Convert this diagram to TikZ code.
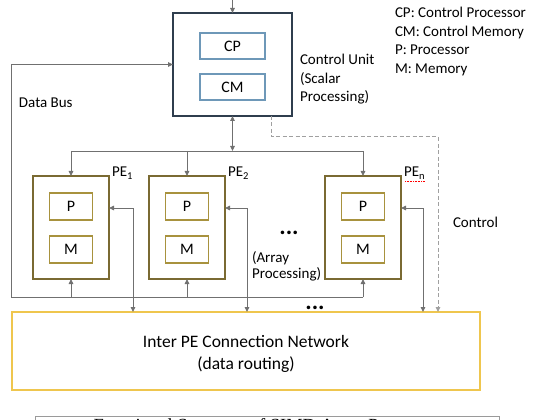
\documentclass[tikz,border=0pt]{standalone}
\usepackage{fontspec}
\setmainfont{Carlito}
\newfontfamily\capfont{Liberation Serif}
\usetikzlibrary{arrows.meta}
\definecolor{cuborder}{HTML}{2F3E4E}
\definecolor{cpborder}{HTML}{6E98B8}
\definecolor{peborder}{HTML}{7A6A32}
\definecolor{pborder}{HTML}{A8923E}
\definecolor{netborder}{HTML}{EFC64E}
\definecolor{linegray}{HTML}{707070}
\definecolor{dashgray}{HTML}{A0A0A0}
\definecolor{capborder}{HTML}{9A9A9A}
\begin{document}
\begin{tikzpicture}[x=1pt,y=-1pt,
  every node/.style={inner sep=0pt, outer sep=0pt},
  txt/.style={font=\fontsize{15}{18.5}\selectfont, anchor=base west},
  lbl/.style={font=\fontsize{16}{19}\selectfont},
  cubox/.style={draw=cuborder, line width=1.8pt, minimum width=119, minimum height=103},
  cpbox/.style={draw=cpborder, line width=1.4pt, minimum width=65, minimum height=26, lbl},
  pebox/.style={draw=peborder, line width=2pt, minimum width=76, minimum height=103},
  pbox/.style={draw=pborder, line width=1.4pt, minimum width=43, minimum height=27, lbl},
  netbox/.style={draw=netborder, line width=1.6pt, minimum width=468, minimum height=78},
  conn/.style={draw=linegray, line width=0.9pt},
  arr/.style={conn, -{Triangle[length=5pt,width=4.5pt]}},
  darr/.style={conn, {Triangle[length=5pt,width=4.5pt]}-{Triangle[length=5pt,width=4.5pt]}},
  ctrl/.style={draw=dashgray, line width=1pt, dash pattern=on 4pt off 2.5pt, -{Triangle[length=5pt,width=4.5pt]}},
  dots/.style={font=\fontsize{24}{24}\selectfont\bfseries}
]
\useasboundingbox (0,0) rectangle (550,420);

% control unit
\node[cubox] (cu) at (232.5,64.5) {};
\node[cpbox] (cp) at (232.5,46) {CP};
\node[cpbox] (cm) at (232.5,87) {CM};
\node[txt] (cut1) at (300,65) {Control Unit};
\node[txt] (cut2) at (300,83.5) {(Scalar};
\node[txt] (cut3) at (300,102) {Processing)};

% legend
\node[txt] (lg1) at (395,18) {CP: Control Processor};
\node[txt] (lg2) at (395,36.5) {CM: Control Memory};
\node[txt] (lg3) at (395,55) {P: Processor};
\node[txt] (lg4) at (395,73.5) {M: Memory};

% processing elements
\foreach \n/\x in {pe1/71, pe2/187, pen/363}{
  \node[pebox] (\n) at (\x,227.5) {};
  \node[pbox] (\n p) at (\x,206.5) {P};
  \node[pbox] (\n m) at (\x,249.5) {M};
}
\node[txt] (pe1l) at (112,177) {PE\textsubscript{1}};
\node[txt] (pe2l) at (228,177) {PE\textsubscript{2}};
\node[txt] (penl) at (404,177) {PE\textsubscript{n}};
\draw[red, densely dotted, line width=0.6pt] (405,181) -- (425,181);

% network
\node[netbox] (net) at (246,351) {};
\node[font=\fontsize{17.5}{22}\selectfont, anchor=base] (nett1) at (246,347) {Inter PE Connection Network};
\node[font=\fontsize{17.5}{22}\selectfont, anchor=base] (nett2) at (246,369) {(data routing)};

% other labels
\node[txt] (db) at (19,108) {Data Bus};
\node[txt] (ctl) at (453,228) {Control};
\node[txt] (ap1) at (252,262) {(Array};
\node[txt] (ap2) at (252,279) {Processing)};
\node[dots, anchor=base] (d1) at (289,235) {...};
\node[dots, anchor=base] (d2) at (315,309) {...};

% caption
\node[draw=capborder, line width=1pt, minimum width=464, minimum height=30, anchor=north] (cap) at (267,416) {};
\node[font=\capfont\fontsize{18.5}{22}\selectfont, anchor=base] (capt) at (267,431) {Functional Structure of SIMD Array Processor};

% connectors
\coordinate (topin) at (232.5,-2);
\draw[arr] (topin) -- (cu.north);
\coordinate (dist) at (232.5,151);
\draw[darr] (cu.south) -- (dist);
\draw[conn] (pe1.north |- dist) -- (pen.north |- dist);
\foreach \n in {pe1,pe2,pen}{
  \draw[arr] (\n.north |- dist) -- (\n.north);
}
\coordinate (bus) at (11,297);
\draw[arr] (pen.south |- bus) -- (bus) |- (cu.west);
\foreach \n in {pe1,pe2,pen}{
  \draw[arr] (\n.south |- bus) -- (\n.south);
}
\foreach \n/\x in {pe1/133, pe2/247, pen/423}{
  \draw[darr] (\n.east |- 0,208) -| (net.north -| \x,0);
}
\draw[ctrl] (cu.south -| 271,0) -- (271,137) -- (438,137) -- (net.north -| 438,0);
\end{tikzpicture}
\end{document}
